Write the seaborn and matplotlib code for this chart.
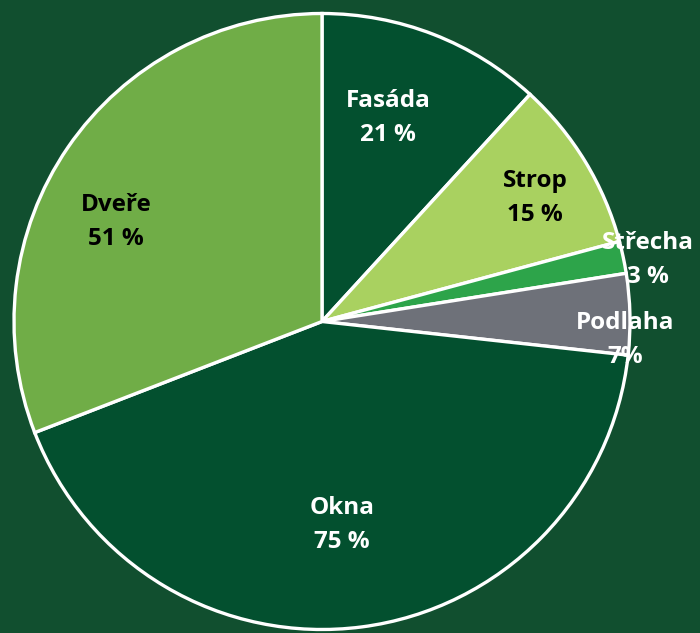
import numpy as np
import matplotlib
matplotlib.use("Agg")
import matplotlib.pyplot as plt
import seaborn as sns

sns.set_theme(style="white")
plt.rcParams['font.family'] = ['Open Sans', 'DejaVu Sans']

# data read off the picture (wedge sizes measured from the slice angles,
# label texts as printed in the chart)
labels = ['Fasáda', 'Strop', 'Střecha', 'Podlaha', 'Okna', 'Dveře']
sizes = [20.3, 15.5, 2.9, 7.3, 72.9, 53.1]
pct_text = ['21 %', '15 %', '3 %', '7%', '75 %', '51 %']

colors = ['#03502f', '#a9d160', '#2da44a', '#6e7179', '#03502f', '#70ad47']
text_colors = ['white', 'black', 'white', 'white', 'white', 'black']
# label placement (radius, angular offset from wedge middle in degrees)
label_r = [0.695, 0.80, 1.077, 0.985, 0.664, 0.743]
label_da = [3.3, -1.2, -1.4, -4.9, -1.8, 8.7]

bg = '#114f2f'
fig = plt.figure(figsize=(7, 6.33), dpi=100, facecolor=bg)
ax = fig.add_axes([14 / 700, 3.5 / 633, 616 / 700, 616 / 633])
ax.set_facecolor(bg)

wedges, _ = ax.pie(sizes, colors=colors, startangle=90, counterclock=False,
                   radius=1.0,
                   wedgeprops=dict(edgecolor='white', linewidth=2.4))

for w, lab, pct, tc, r, da in zip(wedges, labels, pct_text, text_colors, label_r, label_da):
    mid = np.deg2rad((w.theta1 + w.theta2) / 2 + da)
    ax.text(r * np.cos(mid), r * np.sin(mid), f'{lab}\n{pct}',
            ha='center', va='center', color=tc, fontsize=17.5,
            fontweight='bold', linespacing=1.55)

ax.set_xlim(-1, 1)
ax.set_ylim(-1, 1)
ax.set_aspect('equal')
ax.axis('off')

fig.savefig('out.png', dpi=100, facecolor=bg)
